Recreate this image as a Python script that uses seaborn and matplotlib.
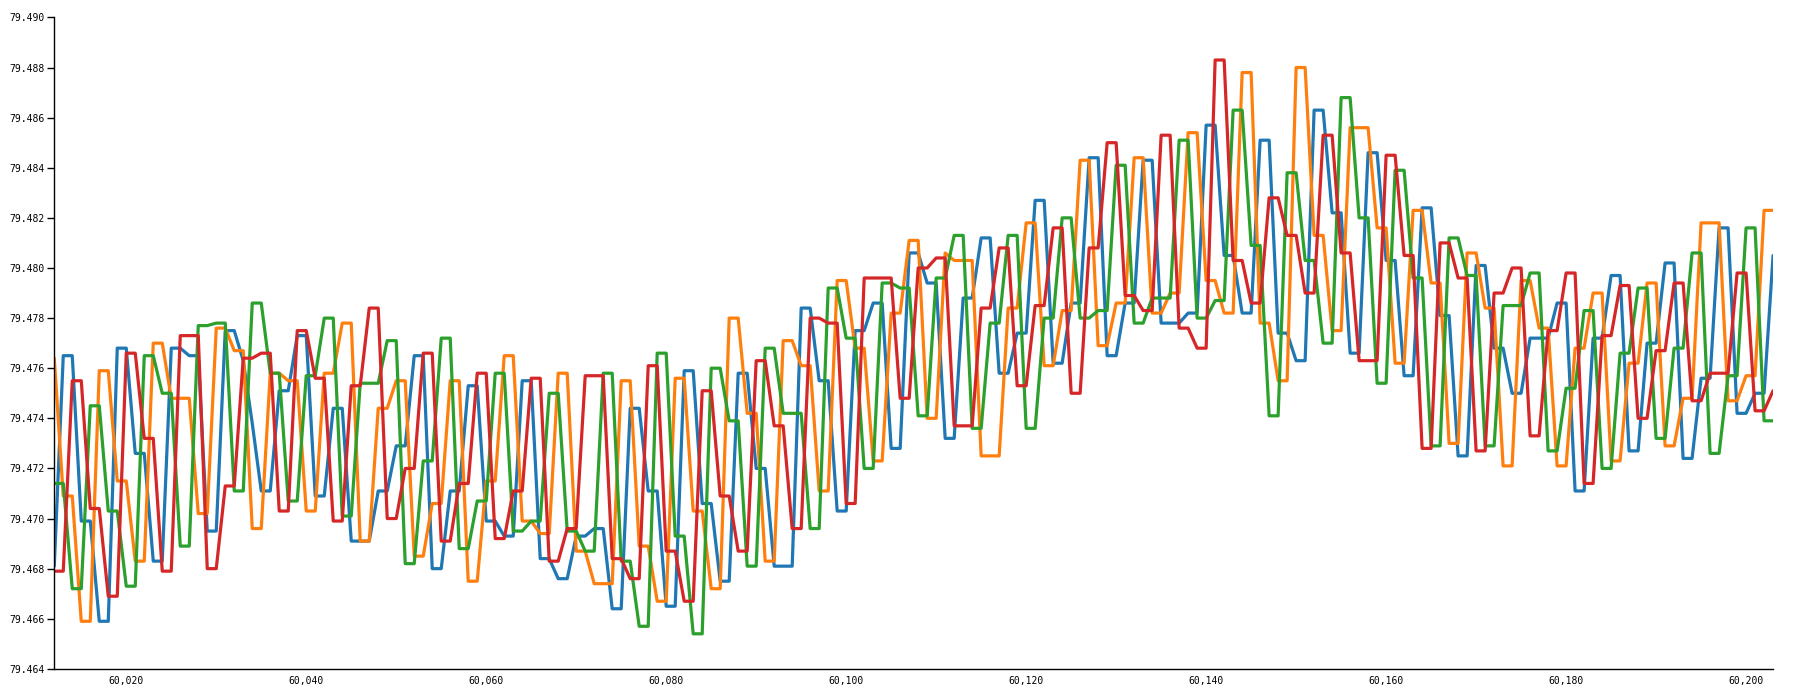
import numpy as np
import pandas as pd
import matplotlib
matplotlib.use("Agg")
import matplotlib.pyplot as plt
from matplotlib.ticker import FuncFormatter, FixedLocator
import seaborn as sns

x_start = 60012

blue = [
    79.4681, 79.4765, 79.4765, 79.4699, 79.4699, 79.4659, 79.4659, 79.4768, 79.4768, 79.4726,
    79.4726, 79.4683, 79.4683, 79.4768, 79.4768, 79.4765, 79.4765, 79.4695, 79.4695, 79.4775,
    79.4775, 79.4763, 79.4738, 79.4711, 79.4711, 79.4751, 79.4751, 79.4773, 79.4773, 79.4709,
    79.4709, 79.4744, 79.4744, 79.4691, 79.4691, 79.4691, 79.4711, 79.4711, 79.4729, 79.4729,
    79.4765, 79.4765, 79.4680, 79.4680, 79.4711, 79.4711, 79.4753, 79.4753, 79.4699, 79.4699,
    79.4693, 79.4693, 79.4755, 79.4755, 79.4684, 79.4684, 79.4676, 79.4676, 79.4693, 79.4693,
    79.4696, 79.4696, 79.4664, 79.4664, 79.4744, 79.4744, 79.4711, 79.4711, 79.4665, 79.4665,
    79.4759, 79.4759, 79.4706, 79.4706, 79.4675, 79.4675, 79.4758, 79.4758, 79.4720, 79.4720,
    79.4681, 79.4681, 79.4681, 79.4784, 79.4784, 79.4755, 79.4755, 79.4703, 79.4703, 79.4775,
    79.4775, 79.4786, 79.4786, 79.4728, 79.4728, 79.4806, 79.4806, 79.4794, 79.4794, 79.4732,
    79.4732, 79.4788, 79.4788, 79.4812, 79.4812, 79.4758, 79.4758, 79.4774, 79.4774, 79.4827,
    79.4827, 79.4762, 79.4762, 79.4786, 79.4786, 79.4844, 79.4844, 79.4765, 79.4765, 79.4786,
    79.4786, 79.4843, 79.4843, 79.4778, 79.4778, 79.4778, 79.4782, 79.4782, 79.4857, 79.4857,
    79.4805, 79.4805, 79.4782, 79.4782, 79.4851, 79.4851, 79.4774, 79.4774, 79.4763, 79.4763,
    79.4863, 79.4863, 79.4822, 79.4822, 79.4766, 79.4766, 79.4846, 79.4846, 79.4803, 79.4803,
    79.4757, 79.4757, 79.4824, 79.4824, 79.4781, 79.4781, 79.4725, 79.4725, 79.4801, 79.4801,
    79.4768, 79.4768, 79.4750, 79.4750, 79.4772, 79.4772, 79.4772, 79.4786, 79.4786, 79.4711,
    79.4711, 79.4772, 79.4772, 79.4797, 79.4797, 79.4727, 79.4727, 79.4770, 79.4770, 79.4802,
    79.4802, 79.4724, 79.4724, 79.4756, 79.4756, 79.4816, 79.4816, 79.4742, 79.4742, 79.4750,
    79.4750, 79.4805,
]

orange = [
    79.4764, 79.4709, 79.4709, 79.4659, 79.4659, 79.4759, 79.4759, 79.4715, 79.4715, 79.4683,
    79.4683, 79.4770, 79.4770, 79.4748, 79.4748, 79.4748, 79.4702, 79.4702, 79.4776, 79.4776,
    79.4767, 79.4767, 79.4696, 79.4696, 79.4758, 79.4758, 79.4755, 79.4755, 79.4703, 79.4703,
    79.4758, 79.4758, 79.4778, 79.4778, 79.4691, 79.4691, 79.4744, 79.4744, 79.4755, 79.4755,
    79.4685, 79.4685, 79.4706, 79.4706, 79.4755, 79.4755, 79.4675, 79.4675, 79.4715, 79.4715,
    79.4765, 79.4765, 79.4699, 79.4699, 79.4694, 79.4694, 79.4758, 79.4758, 79.4687, 79.4687,
    79.4674, 79.4674, 79.4674, 79.4755, 79.4755, 79.4689, 79.4689, 79.4667, 79.4667, 79.4756,
    79.4756, 79.4703, 79.4703, 79.4672, 79.4672, 79.4780, 79.4780, 79.4742, 79.4742, 79.4683,
    79.4683, 79.4771, 79.4771, 79.4761, 79.4761, 79.4711, 79.4711, 79.4795, 79.4795, 79.4768,
    79.4768, 79.4723, 79.4723, 79.4782, 79.4782, 79.4811, 79.4811, 79.4740, 79.4740, 79.4806,
    79.4803, 79.4803, 79.4803, 79.4725, 79.4725, 79.4725, 79.4784, 79.4784, 79.4818, 79.4818,
    79.4761, 79.4761, 79.4783, 79.4783, 79.4843, 79.4843, 79.4769, 79.4769, 79.4786, 79.4786,
    79.4844, 79.4844, 79.4782, 79.4782, 79.4790, 79.4790, 79.4854, 79.4854, 79.4795, 79.4795,
    79.4782, 79.4782, 79.4878, 79.4878, 79.4778, 79.4778, 79.4755, 79.4755, 79.4880, 79.4880,
    79.4813, 79.4813, 79.4775, 79.4775, 79.4856, 79.4856, 79.4856, 79.4816, 79.4816, 79.4762,
    79.4762, 79.4823, 79.4823, 79.4794, 79.4794, 79.4730, 79.4730, 79.4806, 79.4806, 79.4784,
    79.4784, 79.4721, 79.4721, 79.4795, 79.4795, 79.4776, 79.4776, 79.4721, 79.4721, 79.4768,
    79.4768, 79.4790, 79.4790, 79.4723, 79.4723, 79.4762, 79.4762, 79.4794, 79.4794, 79.4729,
    79.4729, 79.4748, 79.4748, 79.4818, 79.4818, 79.4818, 79.4747, 79.4747, 79.4757, 79.4757,
    79.4823, 79.4823,
]

green = [
    79.4714, 79.4714, 79.4672, 79.4672, 79.4745, 79.4745, 79.4703, 79.4703, 79.4673, 79.4673,
    79.4765, 79.4765, 79.4750, 79.4750, 79.4689, 79.4689, 79.4777, 79.4777, 79.4778, 79.4778,
    79.4711, 79.4711, 79.4786, 79.4786, 79.4758, 79.4758, 79.4707, 79.4707, 79.4757, 79.4757,
    79.4780, 79.4780, 79.4701, 79.4701, 79.4754, 79.4754, 79.4754, 79.4771, 79.4771, 79.4682,
    79.4682, 79.4723, 79.4723, 79.4772, 79.4772, 79.4688, 79.4688, 79.4707, 79.4707, 79.4758,
    79.4758, 79.4695, 79.4695, 79.4699, 79.4699, 79.4750, 79.4750, 79.4695, 79.4695, 79.4687,
    79.4687, 79.4758, 79.4758, 79.4683, 79.4683, 79.4657, 79.4657, 79.4766, 79.4766, 79.4693,
    79.4693, 79.4654, 79.4654, 79.4760, 79.4760, 79.4739, 79.4739, 79.4681, 79.4681, 79.4768,
    79.4768, 79.4742, 79.4742, 79.4742, 79.4696, 79.4696, 79.4792, 79.4792, 79.4772, 79.4772,
    79.4720, 79.4720, 79.4794, 79.4794, 79.4792, 79.4792, 79.4741, 79.4741, 79.4796, 79.4796,
    79.4813, 79.4813, 79.4736, 79.4736, 79.4778, 79.4778, 79.4813, 79.4813, 79.4736, 79.4736,
    79.4780, 79.4780, 79.4820, 79.4820, 79.4780, 79.4780, 79.4783, 79.4783, 79.4841, 79.4841,
    79.4778, 79.4778, 79.4788, 79.4788, 79.4788, 79.4851, 79.4851, 79.4780, 79.4780, 79.4787,
    79.4787, 79.4863, 79.4863, 79.4809, 79.4809, 79.4741, 79.4741, 79.4838, 79.4838, 79.4803,
    79.4803, 79.4770, 79.4770, 79.4868, 79.4868, 79.4820, 79.4820, 79.4754, 79.4754, 79.4839,
    79.4839, 79.4796, 79.4796, 79.4729, 79.4729, 79.4812, 79.4812, 79.4797, 79.4797, 79.4729,
    79.4729, 79.4785, 79.4785, 79.4785, 79.4798, 79.4798, 79.4727, 79.4727, 79.4752, 79.4752,
    79.4783, 79.4783, 79.4720, 79.4720, 79.4766, 79.4766, 79.4792, 79.4792, 79.4732, 79.4732,
    79.4768, 79.4768, 79.4806, 79.4806, 79.4726, 79.4726, 79.4757, 79.4757, 79.4816, 79.4816,
    79.4739, 79.4739,
]

red = [
    79.4679, 79.4679, 79.4755, 79.4755, 79.4704, 79.4704, 79.4669, 79.4669, 79.4766, 79.4766,
    79.4732, 79.4732, 79.4679, 79.4679, 79.4773, 79.4773, 79.4773, 79.4680, 79.4680, 79.4713,
    79.4713, 79.4764, 79.4764, 79.4766, 79.4766, 79.4703, 79.4703, 79.4775, 79.4775, 79.4756,
    79.4756, 79.4699, 79.4699, 79.4753, 79.4753, 79.4784, 79.4784, 79.4700, 79.4700, 79.4720,
    79.4720, 79.4766, 79.4766, 79.4691, 79.4691, 79.4714, 79.4714, 79.4758, 79.4758, 79.4692,
    79.4692, 79.4711, 79.4711, 79.4756, 79.4756, 79.4683, 79.4683, 79.4696, 79.4696, 79.4757,
    79.4757, 79.4757, 79.4684, 79.4684, 79.4676, 79.4676, 79.4761, 79.4761, 79.4687, 79.4687,
    79.4667, 79.4667, 79.4751, 79.4751, 79.4709, 79.4709, 79.4687, 79.4687, 79.4763, 79.4763,
    79.4737, 79.4737, 79.4696, 79.4696, 79.4780, 79.4780, 79.4778, 79.4778, 79.4706, 79.4706,
    79.4796, 79.4796, 79.4796, 79.4796, 79.4748, 79.4748, 79.4800, 79.4800, 79.4804, 79.4804,
    79.4737, 79.4737, 79.4737, 79.4784, 79.4784, 79.4808, 79.4808, 79.4753, 79.4753, 79.4785,
    79.4785, 79.4816, 79.4816, 79.4750, 79.4750, 79.4808, 79.4808, 79.4850, 79.4850, 79.4789,
    79.4789, 79.4783, 79.4783, 79.4853, 79.4853, 79.4776, 79.4776, 79.4768, 79.4768, 79.4883,
    79.4883, 79.4803, 79.4803, 79.4786, 79.4786, 79.4828, 79.4828, 79.4813, 79.4813, 79.4790,
    79.4790, 79.4853, 79.4853, 79.4806, 79.4806, 79.4763, 79.4763, 79.4763, 79.4845, 79.4845,
    79.4805, 79.4805, 79.4728, 79.4728, 79.4810, 79.4810, 79.4796, 79.4796, 79.4727, 79.4727,
    79.4790, 79.4790, 79.4800, 79.4800, 79.4733, 79.4733, 79.4775, 79.4775, 79.4798, 79.4798,
    79.4714, 79.4714, 79.4773, 79.4773, 79.4793, 79.4793, 79.4740, 79.4740, 79.4767, 79.4767,
    79.4794, 79.4794, 79.4747, 79.4747, 79.4758, 79.4758, 79.4758, 79.4798, 79.4798, 79.4743,
    79.4743, 79.4751,
]

series_names = ["blue", "orange", "green", "red"]
series_values = [blue, orange, green, red]
colors = ["#1f77b4", "#ff7f0e", "#2ca02c", "#d62728"]

y_ticks = [79.464, 79.466, 79.468, 79.470, 79.472, 79.474, 79.476,
           79.478, 79.480, 79.482, 79.484, 79.486, 79.488, 79.490]
x_ticks = [60020, 60040, 60060, 60080, 60100, 60120, 60140, 60160, 60180, 60200]

frames = []
for name, vals in zip(series_names, series_values):
    frames.append(pd.DataFrame({
        "x": np.arange(x_start, x_start + len(vals)),
        "value": vals,
        "series": name,
    }))
df = pd.concat(frames, ignore_index=True)

sns.set_theme(style="white")
plt.rcParams["font.family"] = ["DejaVu Sans Mono", "DejaVu Sans"]

fig = plt.figure(figsize=(18.15, 6.94), dpi=100)
ax = fig.add_axes([0.0299, 0.0362, 0.9470, 0.9387])

sns.lineplot(data=df, x="x", y="value", hue="series", hue_order=series_names,
             palette=colors, estimator=None, sort=True, legend=False,
             linewidth=2.3, ax=ax)

x_min = x_start
x_max = x_start + len(blue) - 1
ax.set_xlim(x_min, x_max)
ax.set_ylim(y_ticks[0], y_ticks[-1])

ax.set_xticks(x_ticks)
ax.xaxis.set_minor_locator(FixedLocator([x_min, x_max]))
ax.set_yticks(y_ticks)
ax.xaxis.set_major_formatter(FuncFormatter(lambda v, p: f"{v:,.0f}"))
ax.yaxis.set_major_formatter(FuncFormatter(lambda v, p: f"{v:.3f}"))

ax.tick_params(axis="x", which="major", length=0, pad=5, labelsize=7, colors="#000000")
ax.tick_params(axis="x", which="minor", length=5, width=1, color="#000000")
ax.tick_params(axis="y", which="major", length=5, width=1, pad=2, labelsize=7,
               colors="#000000", left=True)

for side in ["top", "right"]:
    ax.spines[side].set_visible(False)
for side in ["left", "bottom"]:
    ax.spines[side].set_color("#000000")
    ax.spines[side].set_linewidth(1.0)

ax.set_xlabel("")
ax.set_ylabel("")
ax.grid(False)

fig.savefig("out.png", dpi=100)
